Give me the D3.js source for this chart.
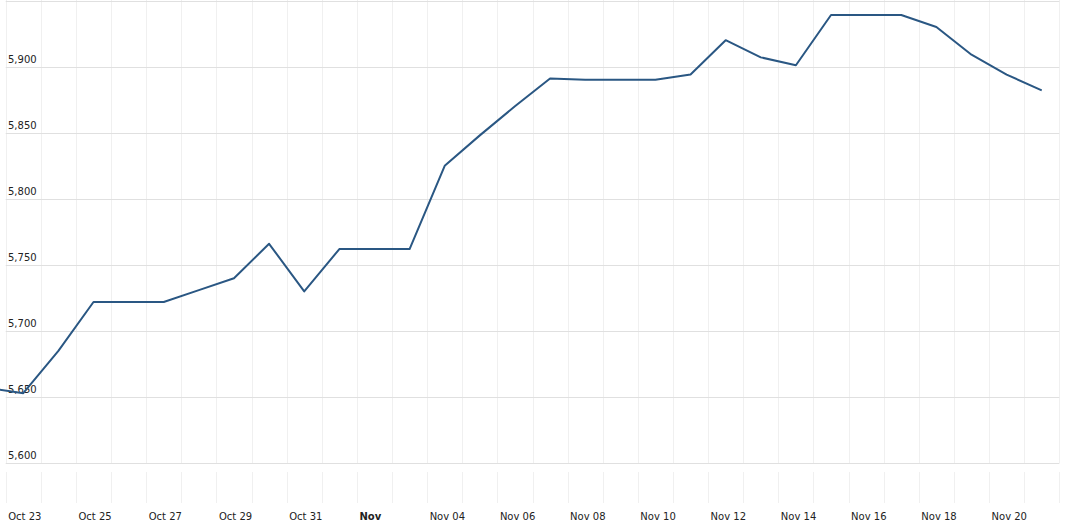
<!DOCTYPE html>
<html><head><meta charset="utf-8">
<script src="https://cdn.jsdelivr.net/npm/d3@7"></script>
<style>
html,body{margin:0;padding:0;background:#fff;}
svg{display:block;font-family:"DejaVu Sans",Verdana,sans-serif;}
</style></head>
<body><svg id="c" width="1065" height="525"></svg>
<script>
// Data: daily values (plotted at mid-day), first date Oct 22 2024
const startDate = "2024-10-22";
const values = [5657,5653,5685,5722,5722,5722,5731,5740,5766,5730,5762,5762,5762,5825,5848,5870,5891,5890,5890,5890,5894,5920,5907,5901,5939,5939,5939,5930,5909,5894,5882];
const yTicks = [5600,5650,5700,5750,5800,5850,5900];
const xTickLabels = ["Oct 23","Oct 25","Oct 27","Oct 29","Oct 31","Nov","Nov 04","Nov 06","Nov 08","Nov 10","Nov 12","Nov 14","Nov 16","Nov 18","Nov 20"];
const boldLabels = ["Nov"];

const DAY = 864e5;
const t0 = Date.parse(startDate + "T00:00:00Z");
const data = values.map((v,i)=>({d:new Date(t0 + (i+0.5)*DAY), v}));

const svg = d3.select("#c");
const pLeft = 5.7, pRight = 1059.3, pTop = 0.5, pBottom = 463.3;
const x = d3.scaleUtc().domain([new Date(t0+DAY), new Date(t0+31*DAY)]).range([pLeft,pRight]);
const y = d3.scaleLinear().domain([5600,5950]).range([pBottom,pTop]);

const days = d3.utcDay.range(new Date(t0+DAY), new Date(t0+32*DAY));

// vertical gridlines (plot)
svg.append("g").selectAll("line").data(days).join("line")
  .attr("x1",d=>Math.round(x(d))+0.5).attr("x2",d=>Math.round(x(d))+0.5)
  .attr("y1",0).attr("y2",pBottom)
  .attr("stroke","#f0f0f0").attr("stroke-width",1);
// vertical ticks in axis band
svg.append("g").selectAll("line").data(days).join("line")
  .attr("x1",d=>Math.round(x(d))+0.5).attr("x2",d=>Math.round(x(d))+0.5)
  .attr("y1",472).attr("y2",503)
  .attr("stroke","#f0f0f0").attr("stroke-width",1);

// horizontal gridlines
const hg = yTicks.concat([5950]);
svg.append("g").selectAll("line").data(hg).join("line")
  .attr("x1",pLeft).attr("x2",pRight)
  .attr("y1",d=>Math.round(y(d))+0.5).attr("y2",d=>Math.round(y(d))+0.5)
  .attr("stroke","#e0e0e0").attr("stroke-width",1);

// y labels
svg.append("g").selectAll("text").data(yTicks).join("text")
  .attr("x",8).attr("y",d=>y(d)-4)
  .attr("font-size",10).attr("fill","#222")
  .text(d=>d3.format(",")(d));

// x labels
const labelDates = xTickLabels.map((s,i)=>new Date(t0 + (1+2*i)*DAY));
svg.append("g").selectAll("text").data(xTickLabels).join("text")
  .attr("x",(d,i)=>x(labelDates[i])+2.5).attr("y",519.5)
  .attr("font-size",10).attr("fill","#222")
  .attr("font-weight",d=>boldLabels.includes(d)?"bold":"normal")
  .text(d=>d);

// line
svg.append("defs").append("clipPath").attr("id","cp").append("rect")
  .attr("x",0).attr("y",0).attr("width",pRight).attr("height",pBottom);
svg.append("path").datum(data)
  .attr("clip-path","url(#cp)")
  .attr("fill","none").attr("stroke","#2a5783").attr("stroke-width",2)
  .attr("stroke-linejoin","round")
  .attr("d",d3.line().x(d=>x(d.d)).y(d=>y(d.v)));
</script></body></html>
